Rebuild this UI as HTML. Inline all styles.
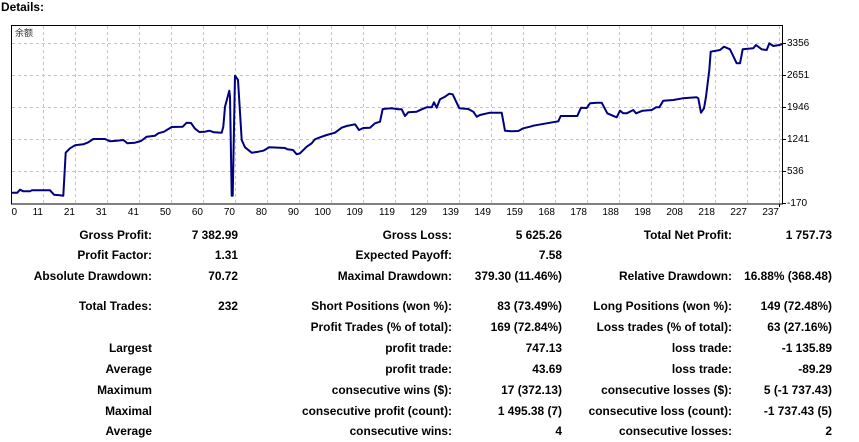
<!DOCTYPE html>
<html><head><meta charset="utf-8">
<style>
html,body{margin:0;padding:0;background:#fff;}
body{width:859px;height:442px;position:relative;overflow:hidden;font-family:"Liberation Sans","Noto Sans CJK SC",sans-serif;}
.t{position:absolute;font-weight:bold;font-size:11.9px;line-height:13px;color:#000;white-space:nowrap;}
.r{text-align:right;}
</style></head><body>
<div class="t" style="left:1px;top:1px;">Details:</div>
<svg width="859" height="222" style="position:absolute;left:0;top:0" xmlns="http://www.w3.org/2000/svg">
<g stroke="#c4c4c4" stroke-width="1" stroke-dasharray="3,3" fill="none" shape-rendering="crispEdges">
<line x1="12" y1="43.5" x2="782" y2="43.5"/>
<line x1="12" y1="75.5" x2="782" y2="75.5"/>
<line x1="12" y1="107.5" x2="782" y2="107.5"/>
<line x1="12" y1="139.5" x2="782" y2="139.5"/>
<line x1="12" y1="171.5" x2="782" y2="171.5"/>
<line x1="43.5" y1="26" x2="43.5" y2="204"/><line x1="75.5" y1="26" x2="75.5" y2="204"/><line x1="107.5" y1="26" x2="107.5" y2="204"/><line x1="139.5" y1="26" x2="139.5" y2="204"/><line x1="171.5" y1="26" x2="171.5" y2="204"/><line x1="203.5" y1="26" x2="203.5" y2="204"/><line x1="235.5" y1="26" x2="235.5" y2="204"/><line x1="267.5" y1="26" x2="267.5" y2="204"/><line x1="299.5" y1="26" x2="299.5" y2="204"/><line x1="331.5" y1="26" x2="331.5" y2="204"/><line x1="363.5" y1="26" x2="363.5" y2="204"/><line x1="395.5" y1="26" x2="395.5" y2="204"/><line x1="427.5" y1="26" x2="427.5" y2="204"/><line x1="459.5" y1="26" x2="459.5" y2="204"/><line x1="491.5" y1="26" x2="491.5" y2="204"/><line x1="523.5" y1="26" x2="523.5" y2="204"/><line x1="555.5" y1="26" x2="555.5" y2="204"/><line x1="587.5" y1="26" x2="587.5" y2="204"/><line x1="619.5" y1="26" x2="619.5" y2="204"/><line x1="651.5" y1="26" x2="651.5" y2="204"/><line x1="683.5" y1="26" x2="683.5" y2="204"/><line x1="715.5" y1="26" x2="715.5" y2="204"/><line x1="747.5" y1="26" x2="747.5" y2="204"/><line x1="779.5" y1="26" x2="779.5" y2="204"/>
</g>
<rect x="11.5" y="25.5" width="771" height="178.5" fill="none" stroke="#000" stroke-width="1" shape-rendering="crispEdges"/>
<g stroke="#000" stroke-width="1" shape-rendering="crispEdges">
<line x1="783" y1="43.5" x2="786" y2="43.5"/><line x1="783" y1="75.5" x2="786" y2="75.5"/><line x1="783" y1="107.5" x2="786" y2="107.5"/><line x1="783" y1="139.5" x2="786" y2="139.5"/><line x1="783" y1="171.5" x2="786" y2="171.5"/><line x1="783" y1="203.5" x2="786" y2="203.5"/>
<line x1="779.5" y1="204" x2="779.5" y2="207"/>
</g>
<text x="15" y="36" font-size="9" fill="#333" font-family="'Noto Sans CJK SC',sans-serif">余额</text>
<polyline fill="none" stroke="#000080" stroke-width="2" stroke-linejoin="round" points="11.7,192.7 17.3,192.7 20,189.7 23.3,191.3 30,191.3 31.7,190.3 50,190.3 54,194.7 60,195.3 63.3,195.7 65.7,152.7 70,148.3 75,145.3 83.3,144.3 88.3,142.3 93.3,139 105,139 110,141.3 116.7,140.7 123.3,140 125,141.3 127.3,143.3 135,142.7 141,141 146.7,136.7 155,135.7 158.3,133.3 164,131.7 171.7,127 182.7,126.7 186.7,122.7 191,123 195,128.7 199.3,132 205,131.7 209.3,130.7 214,132.3 221.7,132.7 223.3,126.7 225,106.7 229.3,90.7 230,96.7 231.7,195.7 232.7,195.7 235,75.7 238,80 241.7,140 245,147.3 251.7,152.7 258.3,151.7 263.3,150.7 269.3,147.3 285,148 287.3,149.3 293,150 296.7,154.3 300,153.3 306.7,146.7 311.7,143.3 315,139.3 320,137.3 326.7,135 335,132.7 341.7,127.7 346.7,126 355,124.3 356.7,126.7 359,130 363.3,128 370,127.7 375,123.3 380,121.7 382.7,109 391.7,108.3 398.3,109.3 401.7,109.3 405,116 408.3,112.3 416.7,111.7 421.7,109.3 426.7,107.3 431.7,107.3 434,102.3 436.7,107.7 440,99.3 445,96.7 449.3,93.7 452.7,94.3 459.3,108.3 468.3,109 473.3,111.7 476.7,116.7 480,115 490,112.7 501.7,112.7 505,130.7 511.7,131.3 518.3,131 523.3,128.3 530,126.7 533.3,125.7 546.7,123.3 558.3,121.3 560.7,116 577.3,116 581,107.7 586.7,108 590,103.3 597.3,102.7 601.7,102.7 607.3,113.3 615,116.7 616.7,117.3 620,110.7 623.3,113.3 626.7,113.3 633.3,110 636,113.3 642.7,110.7 651.7,110 656,107.3 659.3,107.3 663.3,100.7 673.3,100 682.7,98.3 696.7,97.3 698.3,98.3 701,112.7 704,108.3 706,96.7 709.3,70 710.7,51.7 720,50 724,46.7 730,49.3 736.7,63.3 740,63.3 742.7,49.3 753.3,48.3 756,45 761.7,49.3 766.7,50 769.3,43.3 773.3,46 779.3,45 782,44"/>
<g font-size="10" fill="#000" font-family="'Liberation Sans',sans-serif">
<text x="787" y="46">3356</text>
<text x="787" y="78">2651</text>
<text x="787" y="110">1946</text>
<text x="787" y="142">1241</text>
<text x="787" y="174">536</text>
<text x="787" y="206">-170</text>
</g>
<g font-size="10" fill="#000" font-family="'Liberation Sans',sans-serif" text-anchor="end">
<text x="17" y="215">0</text>
<text x="43" y="215">11</text><text x="75" y="215">21</text><text x="107" y="215">31</text><text x="139" y="215">41</text><text x="171" y="215">50</text><text x="203" y="215">60</text><text x="235" y="215">70</text><text x="267" y="215">80</text><text x="299" y="215">90</text><text x="331" y="215">100</text><text x="363" y="215">109</text><text x="395" y="215">119</text><text x="427" y="215">129</text><text x="459" y="215">139</text><text x="491" y="215">149</text><text x="523" y="215">159</text><text x="555" y="215">168</text><text x="587" y="215">178</text><text x="619" y="215">188</text><text x="651" y="215">198</text><text x="683" y="215">208</text><text x="715" y="215">218</text><text x="747" y="215">227</text><text x="779" y="215">237</text>
</g>
</svg>

<div class="t r" style="right:707px;top:229px;">Gross Profit:</div>
<div class="t r" style="right:707px;top:249px;">Profit Factor:</div>
<div class="t r" style="right:707px;top:270px;">Absolute Drawdown:</div>
<div class="t r" style="right:707px;top:300px;">Total Trades:</div>
<div class="t r" style="right:707px;top:342px;">Largest</div>
<div class="t r" style="right:707px;top:363px;">Average</div>
<div class="t r" style="right:707px;top:384px;">Maximum</div>
<div class="t r" style="right:707px;top:405px;">Maximal</div>
<div class="t r" style="right:707px;top:425px;">Average</div>

<div class="t r" style="right:621px;top:229px;">7 382.99</div>
<div class="t r" style="right:621px;top:249px;">1.31</div>
<div class="t r" style="right:621px;top:270px;">70.72</div>
<div class="t r" style="right:621px;top:300px;">232</div>

<div class="t r" style="right:407px;top:229px;">Gross Loss:</div>
<div class="t r" style="right:407px;top:249px;">Expected Payoff:</div>
<div class="t r" style="right:407px;top:270px;">Maximal Drawdown:</div>
<div class="t r" style="right:407px;top:300px;">Short Positions (won %):</div>
<div class="t r" style="right:407px;top:321px;">Profit Trades (% of total):</div>
<div class="t r" style="right:407px;top:342px;">profit trade:</div>
<div class="t r" style="right:407px;top:363px;">profit trade:</div>
<div class="t r" style="right:407px;top:384px;">consecutive wins ($):</div>
<div class="t r" style="right:407px;top:405px;">consecutive profit (count):</div>
<div class="t r" style="right:407px;top:425px;">consecutive wins:</div>

<div class="t r" style="right:297px;top:229px;">5 625.26</div>
<div class="t r" style="right:297px;top:249px;">7.58</div>
<div class="t r" style="right:297px;top:270px;">379.30 (11.46%)</div>
<div class="t r" style="right:297px;top:300px;">83 (73.49%)</div>
<div class="t r" style="right:297px;top:321px;">169 (72.84%)</div>
<div class="t r" style="right:297px;top:342px;">747.13</div>
<div class="t r" style="right:297px;top:363px;">43.69</div>
<div class="t r" style="right:297px;top:384px;">17 (372.13)</div>
<div class="t r" style="right:297px;top:405px;">1 495.38 (7)</div>
<div class="t r" style="right:297px;top:425px;">4</div>

<div class="t r" style="right:127px;top:229px;">Total Net Profit:</div>
<div class="t r" style="right:127px;top:270px;">Relative Drawdown:</div>
<div class="t r" style="right:127px;top:300px;">Long Positions (won %):</div>
<div class="t r" style="right:127px;top:321px;">Loss trades (% of total):</div>
<div class="t r" style="right:127px;top:342px;">loss trade:</div>
<div class="t r" style="right:127px;top:363px;">loss trade:</div>
<div class="t r" style="right:127px;top:384px;">consecutive losses ($):</div>
<div class="t r" style="right:127px;top:405px;">consecutive loss (count):</div>
<div class="t r" style="right:127px;top:425px;">consecutive losses:</div>

<div class="t r" style="right:27px;top:229px;">1 757.73</div>
<div class="t r" style="right:27px;top:270px;">16.88% (368.48)</div>
<div class="t r" style="right:27px;top:300px;">149 (72.48%)</div>
<div class="t r" style="right:27px;top:321px;">63 (27.16%)</div>
<div class="t r" style="right:27px;top:342px;">-1 135.89</div>
<div class="t r" style="right:27px;top:363px;">-89.29</div>
<div class="t r" style="right:27px;top:384px;">5 (-1 737.43)</div>
<div class="t r" style="right:27px;top:405px;">-1 737.43 (5)</div>
<div class="t r" style="right:27px;top:425px;">2</div>
</body></html>
